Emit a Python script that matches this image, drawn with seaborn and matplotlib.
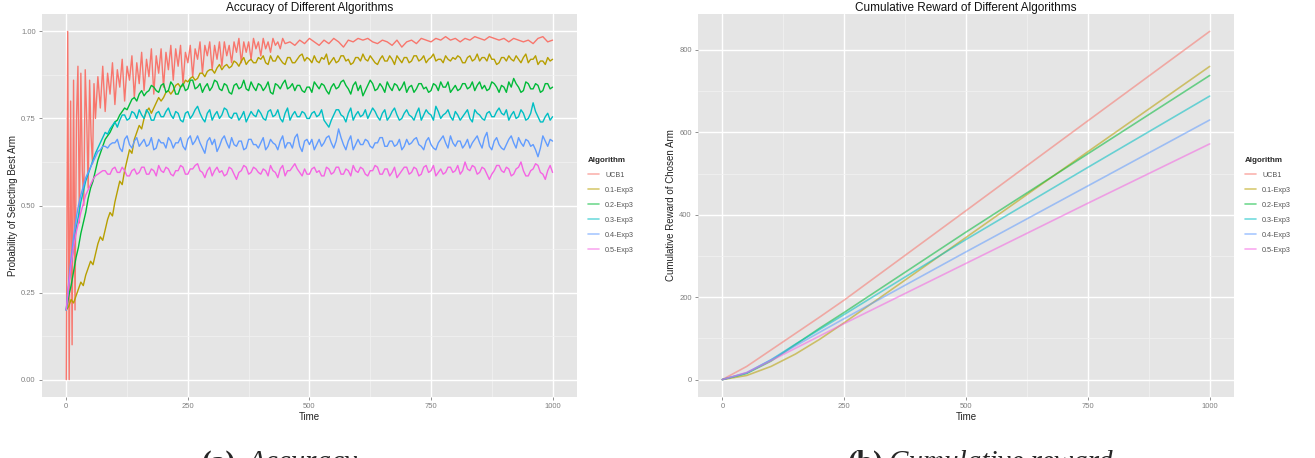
import numpy as np
import pandas as pd
import seaborn as sns
import matplotlib.pyplot as plt

algorithms = ['UCB1', '0.1-Exp3', '0.2-Exp3', '0.3-Exp3', '0.4-Exp3', '0.5-Exp3']
hue_colors = ['#F8766D', '#B79F00', '#00BA38', '#00BFC4', '#619CFF', '#F564E3']

# sample times (UCB1 is read more finely at the start where it oscillates)
ucb1_time = np.concatenate([np.arange(0, 60, 3), np.arange(60, 450, 5), np.arange(450, 1001, 10)])
exp3_time = np.arange(0, 1001, 5)

# accuracy values
ucb1_acc = [
    0.0, 1.0, 0.0, 0.80, 0.10, 0.86, 0.20, 0.75, 0.90, 0.45,
    0.88, 0.60, 0.50, 0.89, 0.75, 0.55, 0.86, 0.70, 0.62, 0.85,
    0.75, 0.87, 0.78, 0.90, 0.77, 0.88, 0.82, 0.91, 0.79, 0.89,
    0.84, 0.92, 0.80, 0.90, 0.86, 0.93, 0.81, 0.91, 0.85, 0.94,
    0.83, 0.92, 0.87, 0.95, 0.82, 0.93, 0.88, 0.95, 0.84, 0.94,
    0.89, 0.96, 0.86, 0.95, 0.90, 0.96, 0.85, 0.94, 0.91, 0.96,
    0.87, 0.95, 0.92, 0.97, 0.88, 0.96, 0.93, 0.97, 0.89, 0.96,
    0.92, 0.97, 0.90, 0.97, 0.93, 0.96, 0.91, 0.97, 0.94, 0.98,
    0.91, 0.97, 0.94, 0.97, 0.92, 0.98, 0.95, 0.97, 0.93, 0.98,
    0.95, 0.97, 0.94, 0.98, 0.96, 0.97, 0.95, 0.98,
    0.965, 0.97, 0.96, 0.975, 0.965, 0.98, 0.97, 0.96, 0.975, 0.965,
    0.98, 0.97, 0.955, 0.975, 0.97, 0.98, 0.975, 0.98, 0.97, 0.965,
    0.975, 0.97, 0.96, 0.975, 0.955, 0.97, 0.975, 0.965, 0.98, 0.975,
    0.97, 0.98, 0.975, 0.985, 0.975, 0.98, 0.97, 0.98, 0.975, 0.985,
    0.98, 0.975, 0.985, 0.98, 0.975, 0.98, 0.97, 0.98, 0.975, 0.97,
    0.975, 0.965, 0.98, 0.985, 0.97, 0.975,
]
exp3_01_acc = [
    0.20, 0.21, 0.23, 0.22, 0.24, 0.26, 0.28, 0.27, 0.30, 0.32, 0.34, 0.33, 0.36, 0.39, 0.41, 0.40, 0.43, 0.46, 0.48, 0.47,
    0.51, 0.54, 0.57, 0.56, 0.60, 0.63, 0.66, 0.65, 0.69, 0.71, 0.73, 0.72, 0.75, 0.77, 0.78, 0.765, 0.78, 0.795, 0.81, 0.80,
    0.81, 0.825, 0.83, 0.82, 0.83, 0.845, 0.85, 0.84, 0.845, 0.86, 0.855, 0.865, 0.87, 0.86, 0.865, 0.88, 0.88, 0.87, 0.885, 0.89,
    0.89, 0.88, 0.895, 0.905, 0.89, 0.90, 0.905, 0.895, 0.90, 0.915, 0.91, 0.90, 0.915, 0.925, 0.905, 0.915, 0.92, 0.91, 0.91, 0.925,
    0.92, 0.93, 0.91, 0.905, 0.93, 0.915, 0.915, 0.93, 0.92, 0.91, 0.905, 0.925, 0.925, 0.91, 0.91, 0.92, 0.93, 0.935, 0.915, 0.925,
    0.92, 0.91, 0.93, 0.915, 0.91, 0.925, 0.92, 0.935, 0.905, 0.915, 0.925, 0.91, 0.915, 0.93, 0.93, 0.915, 0.92, 0.905, 0.91, 0.925,
    0.925, 0.915, 0.935, 0.92, 0.915, 0.93, 0.92, 0.91, 0.905, 0.92, 0.93, 0.915, 0.915, 0.93, 0.92, 0.905, 0.93, 0.92, 0.91, 0.925,
    0.925, 0.91, 0.915, 0.93, 0.93, 0.915, 0.92, 0.93, 0.91, 0.92, 0.925, 0.935, 0.915, 0.92, 0.92, 0.91, 0.93, 0.92, 0.915, 0.925,
    0.92, 0.93, 0.925, 0.91, 0.91, 0.925, 0.93, 0.915, 0.92, 0.935, 0.915, 0.925, 0.925, 0.915, 0.935, 0.92, 0.92, 0.905, 0.91, 0.925,
    0.925, 0.915, 0.93, 0.92, 0.915, 0.93, 0.92, 0.91, 0.925, 0.935, 0.91, 0.92, 0.92, 0.93, 0.905, 0.915, 0.915, 0.905, 0.925, 0.915,
    0.92,
]
exp3_02_acc = [
    0.20, 0.24, 0.27, 0.31, 0.35, 0.38, 0.42, 0.45, 0.48, 0.52, 0.55, 0.57, 0.60, 0.63, 0.65, 0.67, 0.69, 0.70, 0.71, 0.725,
    0.74, 0.745, 0.76, 0.77, 0.78, 0.775, 0.79, 0.805, 0.81, 0.80, 0.82, 0.83, 0.815, 0.825, 0.83, 0.845, 0.84, 0.83, 0.825, 0.845,
    0.85, 0.825, 0.83, 0.855, 0.845, 0.82, 0.82, 0.84, 0.85, 0.83, 0.835, 0.86, 0.86, 0.835, 0.84, 0.85, 0.825, 0.84, 0.85, 0.83,
    0.84, 0.86, 0.855, 0.835, 0.83, 0.85, 0.845, 0.825, 0.82, 0.845, 0.85, 0.835, 0.84, 0.86, 0.835, 0.83, 0.855, 0.84, 0.83, 0.85,
    0.845, 0.83, 0.84, 0.855, 0.825, 0.82, 0.85, 0.845, 0.835, 0.85, 0.86, 0.835, 0.84, 0.85, 0.83, 0.845, 0.845, 0.83, 0.825, 0.84,
    0.84, 0.825, 0.855, 0.845, 0.835, 0.85, 0.845, 0.83, 0.82, 0.84, 0.85, 0.835, 0.84, 0.855, 0.86, 0.845, 0.835, 0.82, 0.845, 0.855,
    0.83, 0.845, 0.815, 0.83, 0.845, 0.86, 0.85, 0.83, 0.835, 0.85, 0.84, 0.825, 0.855, 0.84, 0.83, 0.85, 0.845, 0.83, 0.84, 0.855,
    0.825, 0.84, 0.845, 0.825, 0.835, 0.85, 0.85, 0.835, 0.84, 0.825, 0.83, 0.85, 0.845, 0.83, 0.855, 0.84, 0.84, 0.855, 0.825, 0.835,
    0.845, 0.83, 0.835, 0.85, 0.85, 0.835, 0.84, 0.855, 0.83, 0.845, 0.855, 0.835, 0.845, 0.83, 0.835, 0.855, 0.85, 0.84, 0.825, 0.845,
    0.84, 0.825, 0.855, 0.84, 0.865, 0.85, 0.84, 0.825, 0.83, 0.855, 0.85, 0.835, 0.835, 0.85, 0.845, 0.825, 0.83, 0.85, 0.85, 0.835,
    0.84,
]
exp3_03_acc = [
    0.20, 0.27, 0.33, 0.38, 0.43, 0.47, 0.51, 0.54, 0.57, 0.59, 0.61, 0.63, 0.65, 0.665, 0.68, 0.695, 0.71, 0.705, 0.72, 0.73,
    0.74, 0.725, 0.745, 0.76, 0.76, 0.745, 0.75, 0.77, 0.765, 0.75, 0.775, 0.76, 0.75, 0.775, 0.765, 0.745, 0.745, 0.765, 0.77, 0.755,
    0.755, 0.77, 0.78, 0.76, 0.75, 0.77, 0.765, 0.745, 0.74, 0.765, 0.77, 0.75, 0.76, 0.775, 0.785, 0.765, 0.75, 0.74, 0.765, 0.775,
    0.745, 0.76, 0.77, 0.75, 0.76, 0.78, 0.775, 0.755, 0.75, 0.765, 0.765, 0.745, 0.755, 0.77, 0.74, 0.755, 0.77, 0.76, 0.755, 0.775,
    0.765, 0.75, 0.745, 0.77, 0.775, 0.755, 0.76, 0.775, 0.75, 0.74, 0.765, 0.78, 0.745, 0.76, 0.77, 0.755, 0.755, 0.77, 0.765, 0.75,
    0.75, 0.765, 0.77, 0.755, 0.76, 0.775, 0.745, 0.735, 0.725, 0.745, 0.76, 0.775, 0.775, 0.76, 0.755, 0.74, 0.765, 0.78, 0.745, 0.76,
    0.77, 0.755, 0.76, 0.775, 0.75, 0.765, 0.78, 0.77, 0.755, 0.745, 0.765, 0.775, 0.745, 0.755, 0.77, 0.78, 0.76, 0.745, 0.75, 0.765,
    0.775, 0.76, 0.755, 0.745, 0.765, 0.78, 0.745, 0.76, 0.775, 0.765, 0.76, 0.745, 0.785, 0.77, 0.75, 0.76, 0.765, 0.775, 0.755, 0.745,
    0.77, 0.76, 0.745, 0.755, 0.765, 0.775, 0.75, 0.74, 0.775, 0.765, 0.76, 0.75, 0.745, 0.765, 0.77, 0.755, 0.755, 0.77, 0.78, 0.765,
    0.76, 0.775, 0.745, 0.76, 0.77, 0.75, 0.755, 0.775, 0.765, 0.745, 0.75, 0.765, 0.795, 0.77, 0.755, 0.74, 0.74, 0.755, 0.765, 0.745,
    0.755,
]
exp3_04_acc = [
    0.20, 0.28, 0.35, 0.41, 0.46, 0.50, 0.53, 0.555, 0.58, 0.595, 0.61, 0.625, 0.64, 0.655, 0.66, 0.67, 0.67, 0.665, 0.675, 0.68,
    0.68, 0.69, 0.665, 0.655, 0.69, 0.70, 0.675, 0.665, 0.685, 0.695, 0.67, 0.68, 0.69, 0.67, 0.675, 0.695, 0.66, 0.665, 0.69, 0.68,
    0.68, 0.665, 0.695, 0.685, 0.665, 0.68, 0.68, 0.695, 0.67, 0.66, 0.69, 0.70, 0.675, 0.685, 0.70, 0.68, 0.665, 0.65, 0.685, 0.695,
    0.675, 0.69, 0.655, 0.67, 0.69, 0.70, 0.68, 0.665, 0.695, 0.675, 0.67, 0.685, 0.685, 0.66, 0.665, 0.69, 0.69, 0.675, 0.675, 0.665,
    0.68, 0.695, 0.66, 0.67, 0.69, 0.68, 0.675, 0.66, 0.685, 0.70, 0.665, 0.68, 0.68, 0.665, 0.695, 0.705, 0.67, 0.655, 0.685, 0.69,
    0.675, 0.69, 0.66, 0.675, 0.69, 0.67, 0.68, 0.695, 0.70, 0.68, 0.665, 0.685, 0.72, 0.695, 0.675, 0.66, 0.685, 0.70, 0.66, 0.675,
    0.69, 0.675, 0.675, 0.69, 0.685, 0.67, 0.665, 0.68, 0.68, 0.695, 0.695, 0.67, 0.67, 0.685, 0.685, 0.67, 0.675, 0.69, 0.66, 0.67,
    0.69, 0.675, 0.68, 0.69, 0.695, 0.675, 0.67, 0.66, 0.685, 0.695, 0.675, 0.665, 0.66, 0.68, 0.69, 0.70, 0.68, 0.665, 0.70, 0.68,
    0.67, 0.685, 0.685, 0.665, 0.675, 0.69, 0.665, 0.68, 0.69, 0.70, 0.68, 0.665, 0.695, 0.71, 0.67, 0.66, 0.685, 0.695, 0.675, 0.665,
    0.66, 0.675, 0.69, 0.70, 0.68, 0.665, 0.695, 0.68, 0.67, 0.69, 0.685, 0.67, 0.675, 0.66, 0.64, 0.665, 0.70, 0.685, 0.67, 0.69,
    0.685,
]
exp3_05_acc = [
    0.20, 0.27, 0.33, 0.38, 0.42, 0.45, 0.48, 0.505, 0.53, 0.545, 0.56, 0.575, 0.585, 0.59, 0.595, 0.60, 0.60, 0.59, 0.59, 0.605,
    0.61, 0.595, 0.595, 0.61, 0.60, 0.585, 0.585, 0.60, 0.605, 0.59, 0.595, 0.61, 0.61, 0.59, 0.59, 0.605, 0.60, 0.585, 0.615, 0.60,
    0.595, 0.61, 0.605, 0.59, 0.585, 0.60, 0.60, 0.615, 0.61, 0.59, 0.59, 0.605, 0.605, 0.615, 0.62, 0.60, 0.595, 0.58, 0.60, 0.61,
    0.585, 0.60, 0.61, 0.595, 0.60, 0.585, 0.59, 0.61, 0.605, 0.59, 0.575, 0.595, 0.60, 0.615, 0.61, 0.59, 0.595, 0.61, 0.605, 0.595,
    0.59, 0.605, 0.60, 0.585, 0.615, 0.60, 0.595, 0.58, 0.605, 0.615, 0.585, 0.60, 0.60, 0.61, 0.62, 0.605, 0.595, 0.585, 0.605, 0.59,
    0.59, 0.605, 0.61, 0.595, 0.60, 0.585, 0.585, 0.61, 0.605, 0.59, 0.595, 0.61, 0.61, 0.59, 0.59, 0.605, 0.60, 0.585, 0.615, 0.60,
    0.595, 0.61, 0.605, 0.59, 0.585, 0.60, 0.60, 0.615, 0.61, 0.59, 0.59, 0.605, 0.605, 0.585, 0.595, 0.61, 0.58, 0.59, 0.60, 0.61,
    0.61, 0.59, 0.595, 0.61, 0.605, 0.585, 0.59, 0.61, 0.615, 0.595, 0.60, 0.615, 0.585, 0.595, 0.605, 0.59, 0.595, 0.61, 0.61, 0.595,
    0.60, 0.615, 0.59, 0.60, 0.625, 0.605, 0.60, 0.615, 0.61, 0.59, 0.595, 0.61, 0.605, 0.59, 0.575, 0.59, 0.60, 0.615, 0.615, 0.60,
    0.595, 0.61, 0.605, 0.585, 0.59, 0.605, 0.61, 0.625, 0.60, 0.585, 0.585, 0.60, 0.605, 0.62, 0.615, 0.595, 0.59, 0.575, 0.60, 0.615,
    0.595,
]

# cumulative reward
reward_time = [0, 50, 100, 150, 200, 250, 500, 750, 1000]
ucb1_reward = [0, 32, 72, 112, 152, 193, 410, 628, 845]
exp3_01_reward = [0, 10, 32, 62, 98, 138, 345, 553, 760]
exp3_02_reward = [0, 15, 45, 85, 125, 163, 358, 548, 738]
exp3_03_reward = [0, 16, 48, 86, 122, 158, 340, 515, 688]
exp3_04_reward = [0, 17, 48, 82, 115, 148, 310, 470, 630]
exp3_05_reward = [0, 17, 46, 76, 106, 136, 282, 428, 572]

acc_times = [ucb1_time] + [exp3_time] * 5
acc_values = [ucb1_acc, exp3_01_acc, exp3_02_acc, exp3_03_acc, exp3_04_acc, exp3_05_acc]
reward_values = [ucb1_reward, exp3_01_reward, exp3_02_reward, exp3_03_reward, exp3_04_reward, exp3_05_reward]

acc_df = pd.concat([pd.DataFrame({'Time': t, 'Value': v, 'Algorithm': a})
                    for a, t, v in zip(algorithms, acc_times, acc_values)], ignore_index=True)
reward_df = pd.concat([pd.DataFrame({'Time': reward_time, 'Value': v, 'Algorithm': a})
                       for a, v in zip(algorithms, reward_values)], ignore_index=True)

sns.set_theme(style='darkgrid')
plt.rcParams['font.family'] = ['Liberation Sans', 'DejaVu Sans']

fig = plt.figure(figsize=(13.15, 4.58), dpi=100)
ax1 = fig.add_axes([0.0319, 0.1332, 0.4068, 0.8362])
ax2 = fig.add_axes([0.5308, 0.1332, 0.4076, 0.8362])

sns.lineplot(data=acc_df, x='Time', y='Value', hue='Algorithm', hue_order=algorithms,
             palette=hue_colors, estimator=None, linewidth=1.0, ax=ax1)
sns.lineplot(data=reward_df, x='Time', y='Value', hue='Algorithm', hue_order=algorithms,
             palette=hue_colors, estimator=None, linewidth=1.2, alpha=0.55, ax=ax2)


def ggplot_look(ax, yticks, yminor, ylim, ylabel, title):
    ax.set_facecolor('#E5E5E5')
    ax.set_xlim(-50, 1050)
    ax.set_ylim(*ylim)
    ax.set_xticks([0, 250, 500, 750, 1000])
    ax.set_xticks([125, 375, 625, 875], minor=True)
    ax.set_yticks(yticks)
    ax.set_yticks(yminor, minor=True)
    ax.grid(which='major', color='white', linewidth=1.0)
    ax.grid(which='minor', color='#F2F2F2', linewidth=0.5)
    ax.set_axisbelow(True)
    for s in ax.spines.values():
        s.set_visible(False)
    ax.tick_params(which='major', length=2.5, width=0.6, color='#7F7F7F',
                   labelsize=5.5, labelcolor='#7F7F7F', pad=2, bottom=True, left=True)
    ax.tick_params(which='minor', length=0)
    ax.set_xlabel('Time', fontsize=7, labelpad=1, color='#222222')
    ax.set_ylabel(ylabel, fontsize=7, labelpad=2, color='#222222')
    ax.set_title(title, fontsize=8.5, pad=2.5, color='#111111')

    handles, labels = ax.get_legend_handles_labels()
    leg = ax.legend(handles, labels, title='Algorithm', loc='center left',
                    bbox_to_anchor=(1.008, 0.5), frameon=False, fontsize=5.2,
                    title_fontsize=5.8, handlelength=1.6, labelspacing=1.1,
                    alignment='left', labelcolor='#555555')
    leg.get_title().set_fontweight('bold')
    for line in leg.get_lines():
        line.set_alpha(0.55)
        line.set_linewidth(1.2)


ggplot_look(ax1, [0, 0.25, 0.5, 0.75, 1.0], [0.125, 0.375, 0.625, 0.875], (-0.05, 1.05),
            'Probability of Selecting Best Arm', 'Accuracy of Different Algorithms')
ax1.set_yticklabels(['0.00', '0.25', '0.50', '0.75', '1.00'])
ggplot_look(ax2, [0, 200, 400, 600, 800], [100, 300, 500, 700], (-42.25, 887.25),
            'Cumulative Reward of Chosen Arm', 'Cumulative Reward of Different Algorithms')

# sub-figure captions, cut off by the bottom edge as in the source
cap_y = 0.018
fig.text(0.1795, cap_y, '(a)', fontfamily='Liberation Serif', fontweight='bold',
         fontsize=21, ha='right', va='top')
fig.text(0.1886, cap_y, 'Accuracy', fontfamily='Liberation Serif', fontstyle='italic',
         fontsize=21, ha='left', va='top')
fig.text(0.6715, cap_y, '(b)', fontfamily='Liberation Serif', fontweight='bold',
         fontsize=21, ha='right', va='top')
fig.text(0.676, cap_y, 'Cumulative reward', fontfamily='Liberation Serif', fontstyle='italic',
         fontsize=21, ha='left', va='top')

fig.savefig('out.png', dpi=100, facecolor='white')
